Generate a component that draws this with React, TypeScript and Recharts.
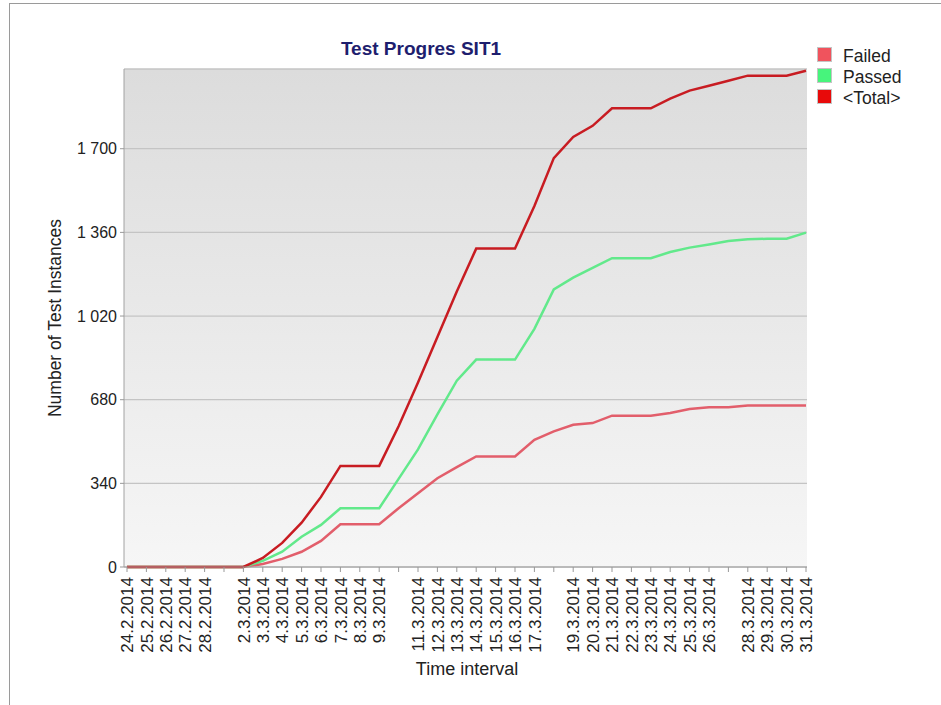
import { LineChart, Line, XAxis, YAxis, CartesianGrid, Legend } from "recharts";

const dates = [
  "24.2.2014", "25.2.2014", "26.2.2014", "27.2.2014", "28.2.2014", "1.3.2014",
  "2.3.2014", "3.3.2014", "4.3.2014", "5.3.2014", "6.3.2014", "7.3.2014",
  "8.3.2014", "9.3.2014", "10.3.2014", "11.3.2014", "12.3.2014", "13.3.2014",
  "14.3.2014", "15.3.2014", "16.3.2014", "17.3.2014", "18.3.2014", "19.3.2014",
  "20.3.2014", "21.3.2014", "22.3.2014", "23.3.2014", "24.3.2014", "25.3.2014",
  "26.3.2014", "27.3.2014", "28.3.2014", "29.3.2014", "30.3.2014", "31.3.2014",
];

// days that have a point but no label on the axis
const hiddenDateLabels = ["1.3.2014", "10.3.2014", "18.3.2014", "27.3.2014"];

const failed = [
  0, 0, 0, 0, 0, 0, 0, 12, 33, 62, 106, 174, 174, 174, 239, 300, 361, 406,
  449, 449, 449, 517, 551, 578, 585, 615, 615, 615, 626, 642, 649, 649, 656, 656, 656, 656,
];

const passed = [
  0, 0, 0, 0, 0, 0, 0, 25, 62, 123, 171, 239, 239, 239, 358, 478, 620, 757,
  843, 843, 843, 968, 1128, 1176, 1216, 1255, 1255, 1255, 1280, 1298, 1311, 1325, 1332, 1334, 1334, 1359,
];

const total = [
  0, 0, 0, 0, 0, 0, 0, 37, 98, 180, 285, 411, 411, 411, 572, 750, 935, 1120,
  1294, 1294, 1294, 1467, 1662, 1748, 1793, 1864, 1864, 1864, 1904, 1936, 1956, 1976, 1997, 1997, 1997, 2017,
];

const yTicks = [0, 340, 680, 1020, 1360, 1700];

const series = [
  { key: "failed", name: "Failed", line: "#e25e6b", swatch: "#f0535d" },
  { key: "passed", name: "Passed", line: "#62e98b", swatch: "#47f47c" },
  { key: "total", name: "<Total>", line: "#c81c22", swatch: "#e80a0a" },
];

const data = dates.map((d, i) => ({
  date: d,
  failed: failed[i],
  passed: passed[i],
  total: total[i],
}));

const FONT = '"Liberation Sans", Arial, sans-serif';
const BORDER = "#a2a2a2";

const fmt = (v: number) =>
  v >= 1000 ? `${Math.floor(v / 1000)} ${String(v % 1000).padStart(3, "0")}` : String(v);

function DateTick({ x, y, payload }: any) {
  if (hiddenDateLabels.includes(payload.value)) return <g />;
  return (
    <g transform={`translate(${x},${y})`}>
      <text
        transform="rotate(-90)"
        x={-4}
        y={0}
        dy="0.36em"
        textAnchor="end"
        fontSize={17}
        fontFamily={FONT}
        fill="#222"
      >
        {payload.value}
      </text>
    </g>
  );
}

function LegendBox({ payload }: any) {
  const items = [...(payload || [])].sort(
    (a: any, b: any) =>
      series.findIndex((s) => s.key === a.dataKey) - series.findIndex((s) => s.key === b.dataKey)
  );
  return (
    <div style={{ fontFamily: FONT, fontSize: 17.5, color: "#222" }}>
      {items.map((p: any) => {
        const s = series.find((x) => x.key === p.dataKey);
        return (
          <div key={p.dataKey} style={{ display: "flex", alignItems: "flex-start", height: 21, lineHeight: "21px" }}>
            <span
              style={{
                display: "inline-block",
                width: 13,
                height: 13,
                marginTop: 1,
                background: s ? s.swatch : p.color,
                border: "1px solid #c4c4c4",
              }}
            />
            <span style={{ marginLeft: 11 }}>{p.value}</span>
          </div>
        );
      })}
    </div>
  );
}

export default function App() {
  return (
    <div style={{ position: "absolute", left: 0, top: 0, width: 941, height: 705, background: "#fff", overflow: "hidden" }}>
      <div
        style={{
          position: "absolute",
          left: 9,
          top: 3,
          width: 940,
          height: 710,
          borderTop: "1px solid #9a9a9a",
          borderLeft: "1px solid #9a9a9a",
        }}
      />
      <LineChart
        width={941}
        height={705}
        data={data}
        margin={{ top: 69, right: 134, bottom: 38, left: 44 }}
        style={{ position: "absolute", left: 0, top: 0 }}
      >
        <defs>
          <linearGradient id="plotBg" x1="0" y1="0" x2="0" y2="1">
            <stop offset="0%" stopColor="#dcdcdc" />
            <stop offset="100%" stopColor="#f6f6f6" />
          </linearGradient>
        </defs>
        <CartesianGrid vertical={false} fill="url(#plotBg)" stroke="#c4c4c4" strokeWidth={1.3} />
        <XAxis
          dataKey="date"
          interval={0}
          height={100}
          tick={<DateTick />}
          tickSize={5}
          tickMargin={1}
          padding={{ left: 3, right: 1 }}
          axisLine={{ stroke: BORDER }}
          tickLine={{ stroke: "#999" }}
        />
        <XAxis
          xAxisId="top"
          orientation="top"
          dataKey="date"
          height={0}
          tick={false}
          tickLine={false}
          axisLine={{ stroke: BORDER }}
        />
        <YAxis
          width={80}
          domain={[0, 2024]}
          ticks={yTicks}
          tickFormatter={fmt}
          tick={{ fontSize: 16, fill: "#222", fontFamily: FONT }}
          tickSize={4}
          tickMargin={3}
          axisLine={{ stroke: BORDER }}
          tickLine={{ stroke: "#999" }}
        />
        <YAxis
          yAxisId="right"
          orientation="right"
          width={0}
          domain={[0, 2024]}
          tick={false}
          tickLine={false}
          axisLine={{ stroke: BORDER }}
        />
        <Legend
          layout="vertical"
          align="center"
          verticalAlign="middle"
          content={<LegendBox />}
          wrapperStyle={{ left: 817, top: 46, width: 120, height: 66 }}
        />
        {series.map((s) => (
          <Line
            key={s.key}
            type="linear"
            dataKey={s.key}
            name={s.name}
            stroke={s.line}
            strokeWidth={2.5}
            dot={false}
            activeDot={false}
            isAnimationActive={false}
          />
        ))}
      </LineChart>
      <svg
        width={941}
        height={705}
        style={{ position: "absolute", left: 0, top: 0, pointerEvents: "none" }}
      >
        <text x={421} y={55} textAnchor="middle" fontFamily={FONT} fontWeight="bold" fontSize={19} fill="#1e1e6e">
          Test Progres SIT1
        </text>
        <text
          transform="translate(61,318) rotate(-90)"
          textAnchor="middle"
          fontFamily={FONT}
          fontSize={17.5}
          fill="#222"
        >
          Number of Test Instances
        </text>
        <text x={467} y={675} textAnchor="middle" fontFamily={FONT} fontSize={18} fill="#222">
          Time interval
        </text>
      </svg>
    </div>
  );
}
